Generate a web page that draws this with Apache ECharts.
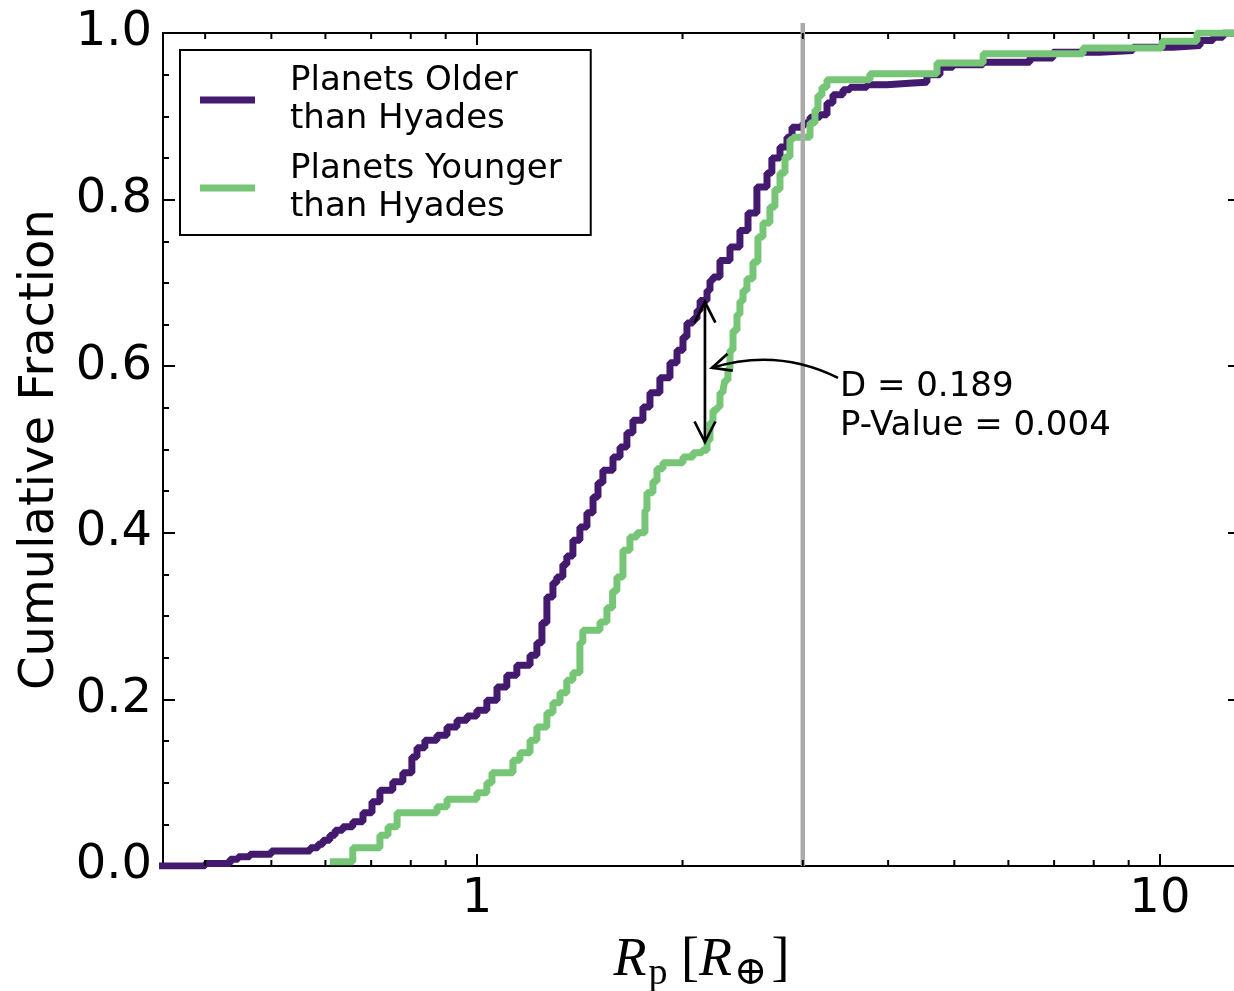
<!DOCTYPE html>
<html><head><meta charset="utf-8">
<script src="https://cdn.jsdelivr.net/npm/echarts@6/dist/echarts.min.js"></script>
<style>html,body{margin:0;padding:0;background:#fff}#c{width:1234px;height:991px}</style>
</head><body><div id="c"></div>
<script>
// ---- data ----
const olderR = [0.30, 0.400, 0.435, 0.447, 0.465, 0.500, 0.570, 0.585, 0.595, 0.609, 0.620, 0.636, 0.658, 0.681, 0.702, 0.721, 0.753, 0.779, 0.803, 0.817, 0.839, 0.874, 0.904, 0.935, 0.967, 1.000, 1.034, 1.070, 1.106, 1.144, 1.196, 1.224, 1.245, 1.266, 1.292, 1.309, 1.336, 1.354, 1.382, 1.415, 1.449, 1.479, 1.504, 1.529, 1.582, 1.620, 1.658, 1.692, 1.750, 1.792, 1.853, 1.917, 1.963, 2.003, 2.030, 2.072, 2.100, 2.122, 2.172, 2.194, 2.216, 2.269, 2.347, 2.427, 2.494, 2.570, 2.659, 2.703, 2.778, 2.844, 2.893, 3.002, 3.074, 3.179, 3.255, 3.321, 3.435, 3.517, 3.724, 3.984, 4.349, 4.559, 4.764, 4.977, 5.506, 6.451, 6.971, 8.171, 9.130, 10.45, 11.45, 11.96, 12.37, 14];
const olderF = [0, 0.003, 0.008, 0.011, 0.014, 0.018, 0.022, 0.026, 0.031, 0.037, 0.043, 0.047, 0.053, 0.064, 0.077, 0.091, 0.101, 0.112, 0.131, 0.142, 0.151, 0.157, 0.167, 0.175, 0.180, 0.187, 0.199, 0.215, 0.229, 0.241, 0.253, 0.268, 0.292, 0.323, 0.340, 0.347, 0.362, 0.372, 0.391, 0.407, 0.424, 0.443, 0.460, 0.475, 0.491, 0.503, 0.520, 0.535, 0.551, 0.568, 0.586, 0.604, 0.619, 0.635, 0.652, 0.657, 0.667, 0.679, 0.691, 0.703, 0.707, 0.727, 0.743, 0.763, 0.784, 0.815, 0.832, 0.850, 0.863, 0.875, 0.887, 0.892, 0.899, 0.902, 0.916, 0.926, 0.932, 0.935, 0.938, 0.940, 0.941, 0.950, 0.959, 0.962, 0.965, 0.970, 0.977, 0.979, 0.983, 0.985, 0.991, 0.995, 1.0, 1.0];
const youngR = [0.609, 0.658, 0.721, 0.741, 0.764, 0.874, 0.904, 1.000, 1.034, 1.052, 1.129, 1.156, 1.196, 1.224, 1.266, 1.292, 1.323, 1.354, 1.382, 1.415, 1.429, 1.514, 1.550, 1.580, 1.603, 1.636, 1.675, 1.715, 1.762, 1.774, 1.810, 1.835, 1.872, 2.003, 2.072, 2.136, 2.172, 2.194, 2.216, 2.246, 2.269, 2.292, 2.307, 2.331, 2.347, 2.371, 2.403, 2.427, 2.452, 2.485, 2.536, 2.579, 2.623, 2.685, 2.731, 2.778, 2.825, 2.873, 2.903, 3.074, 3.126, 3.157, 3.200, 3.255, 3.762, 4.716, 5.510, 7.715, 10.07, 11.33, 14];
const youngF = [0.005, 0.022, 0.037, 0.047, 0.064, 0.071, 0.080, 0.088, 0.100, 0.112, 0.127, 0.136, 0.151, 0.167, 0.184, 0.196, 0.208, 0.223, 0.232, 0.268, 0.283, 0.293, 0.310, 0.330, 0.347, 0.379, 0.395, 0.400, 0.427, 0.448, 0.462, 0.477, 0.484, 0.491, 0.496, 0.499, 0.511, 0.532, 0.547, 0.551, 0.568, 0.571, 0.583, 0.597, 0.619, 0.643, 0.662, 0.678, 0.691, 0.705, 0.725, 0.755, 0.772, 0.791, 0.812, 0.832, 0.851, 0.872, 0.875, 0.892, 0.908, 0.925, 0.935, 0.944, 0.951, 0.964, 0.975, 0.982, 0.990, 1.0, 1.0];
const seriesNames = ['Planets Older\nthan Hyades', 'Planets Younger\nthan Hyades'];
const xMajorTicks = [1, 10];
const xMinorTicks = [0.4, 0.5, 0.6, 0.7, 0.8, 0.9, 2, 3, 4, 5, 6, 7, 8, 9];
const xRange = [0.347, 13.1];
const cutRadius = 3.0;
const ksArrow = { x: 2.157, yTop: 0.677, yBottom: 0.509 };
const ksPointer = { from: [3.378, 0.586], to: [2.209, 0.598] };
const ksText = { x: 3.40, y: 0.5516, lines: ['D = 0.189', 'P-Value = 0.004'] };

// ---- chart ----
const purple = '#431a6e', green = '#77c677';
const FONT = '"DejaVu Sans", sans-serif';
const chart = echarts.init(document.getElementById('c'), null, { renderer: 'canvas' });
const AW = 2.7;

function head(tip, back, len, ang) {
  const c = Math.cos(ang), s = Math.sin(ang);
  const a1 = [tip[0] + len * (back[0] * c - back[1] * s), tip[1] + len * (back[0] * s + back[1] * c)];
  const a2 = [tip[0] + len * (back[0] * c + back[1] * s), tip[1] + len * (-back[0] * s + back[1] * c)];
  return { type: 'polyline', shape: { points: [a1, tip, a2] }, style: { stroke: '#000', lineWidth: AW, fill: 'none' } };
}

function renderAnnot(params, api) {
  const top = api.coord([ksArrow.x, ksArrow.yTop]);
  const bot = api.coord([ksArrow.x, ksArrow.yBottom]);
  const p0 = api.coord(ksPointer.from);
  const p2 = api.coord(ksPointer.to);
  const mid = [(p0[0] + p2[0]) / 2, (p0[1] + p2[1]) / 2];
  const d = [p2[0] - p0[0], p2[1] - p0[1]];
  const c = [mid[0] - 0.2 * d[1], mid[1] + 0.2 * d[0]];
  let b = [c[0] - p2[0], c[1] - p2[1]];
  const bl = Math.hypot(b[0], b[1]); b = [b[0] / bl, b[1] / bl];
  const tp = api.coord([ksText.x, ksText.y]);
  const deg = Math.PI / 180;
  return {
    type: 'group',
    children: [
      { type: 'line', shape: { x1: top[0], y1: top[1], x2: bot[0], y2: bot[1] }, style: { stroke: '#000', lineWidth: AW } },
      head(top, [0, 1], 23, 27 * deg),
      head(bot, [0, -1], 23, 27 * deg),
      { type: 'bezierCurve', shape: { x1: p0[0], y1: p0[1], x2: p2[0], y2: p2[1], cpx1: c[0], cpy1: c[1] }, style: { stroke: '#000', lineWidth: AW, fill: 'none' } },
      head(p2, b, 21, 25 * deg),
      { type: 'text', x: tp[0], y: tp[1], style: { text: ksText.lines.join('\n'), font: '34px ' + FONT, fill: '#000', lineHeight: 39, align: 'left', verticalAlign: 'middle' } }
    ]
  };
}

function renderMinor(params, api) {
  const v = api.value(0);
  const pb = api.coord([v, 0]);
  const pt = api.coord([v, 1]);
  return {
    type: 'group',
    children: [
      { type: 'line', shape: { x1: pb[0], y1: pb[1], x2: pb[0], y2: pb[1] - 6 }, style: { stroke: '#000', lineWidth: 2 } },
      { type: 'line', shape: { x1: pt[0], y1: pt[1], x2: pt[0], y2: pt[1] + 6 }, style: { stroke: '#000', lineWidth: 2 } }
    ]
  };
}

const isMajor = v => xMajorTicks.some(t => Math.abs(v - t) < 1e-6 * t);

const baseX = {
  type: 'log', logBase: 10, min: xRange[0], max: xRange[1],
  axisLine: { show: true, onZero: false, lineStyle: { color: '#000', width: 2 } },
  axisTick: { show: true, inside: true, length: 12, lineStyle: { color: '#000', width: 2 } },
  splitLine: { show: false }, minorSplitLine: { show: false }
};
const baseY = {
  type: 'value', min: 0, max: 1, interval: 0.2,
  axisLine: { show: true, onZero: false, lineStyle: { color: '#000', width: 2 } },
  axisTick: { show: true, inside: true, length: 12, lineStyle: { color: '#000', width: 2 } },
  minorTick: { show: true, splitNumber: 4, length: 6, lineStyle: { color: '#000', width: 2 } },
  splitLine: { show: false }, minorSplitLine: { show: false }
};

const option = {
  backgroundColor: '#fff',
  animation: false,
  grid: { left: 163, top: 33, right: -6, bottom: 125, containLabel: false, outerBoundsMode: 'none' },
  legend: {
    orient: 'vertical', left: 180, top: 50,
    padding: [12, 29, 9, 20],
    itemGap: 12, itemWidth: 55, itemHeight: 7,
    borderColor: '#000', borderWidth: 2, borderRadius: 0, backgroundColor: '#fff',
    textStyle: { fontFamily: FONT, fontSize: 34, lineHeight: 38, color: '#000', padding: [0, 0, 0, 30] },
    data: seriesNames.map(n => ({ name: n, icon: 'rect' }))
  },
  xAxis: [
    Object.assign({}, baseX, {
      position: 'bottom',
      axisLabel: { show: true, margin: 10, color: '#000', fontFamily: FONT, fontSize: 48,
        formatter: v => isMajor(v) ? String(Math.round(v)) : '' },
      name: '{i|R}{s|p} {n|[}{i|R}{o|⊕}{n|]}',
      nameLocation: 'middle', nameGap: 62,
      nameTextStyle: {
        color: '#000', fontFamily: '"Liberation Serif", serif', fontSize: 54,
        rich: {
          i: { fontFamily: '"Liberation Serif", serif', fontStyle: 'italic', fontSize: 54, color: '#000' },
          s: { fontFamily: '"Liberation Serif", serif', fontSize: 38, color: '#000', padding: [26, 0, 0, 2] },
          n: { fontFamily: '"Liberation Serif", serif', fontSize: 54, color: '#000' },
          o: { fontFamily: '"DejaVu Serif", serif', fontSize: 40, color: '#000', padding: [26, 4, 0, 2] }
        }
      }
    }),
    Object.assign({}, baseX, { position: 'top', axisLabel: { show: false } })
  ],
  yAxis: [
    Object.assign({}, baseY, {
      position: 'left',
      axisLabel: { show: true, margin: 11, color: '#000', fontFamily: FONT, fontSize: 48, formatter: v => v.toFixed(1) },
      name: 'Cumulative Fraction', nameLocation: 'middle', nameGap: 98,
      nameTextStyle: { color: '#000', fontFamily: FONT, fontSize: 48 }
    }),
    Object.assign({}, baseY, { position: 'right', axisLabel: { show: false } })
  ],
  series: [
    {
      name: seriesNames[0], type: 'line', step: 'end', showSymbol: false, symbol: 'none',
      data: olderR.map((r, i) => [r, olderF[i]]),
      lineStyle: { color: purple, width: 7 }, itemStyle: { color: purple }, z: 2
    },
    {
      name: seriesNames[1], type: 'line', step: 'end', showSymbol: false, symbol: 'none',
      data: youngR.map((r, i) => [r, youngF[i]]),
      lineStyle: { color: green, width: 7 }, itemStyle: { color: green }, z: 3
    },
    {
      name: 'cut', type: 'line', showSymbol: false, symbol: 'none', clip: false, silent: true,
      data: [[cutRadius, 0], [cutRadius, 1.012]],
      lineStyle: { color: '#aaaaaa', width: 4.5 }, z: 4
    },
    {
      name: 'minorTicks', type: 'custom', silent: true, clip: false,
      data: xMinorTicks.map(v => [v, 0]), encode: { x: 0, y: 1 },
      renderItem: renderMinor, z: 6
    },
    {
      name: 'ks', type: 'custom', silent: true, clip: false,
      data: [[1, 0.5]], encode: { x: 0, y: 1 },
      renderItem: renderAnnot, z: 7
    }
  ]
};
chart.setOption(option);
</script>
</body></html>
